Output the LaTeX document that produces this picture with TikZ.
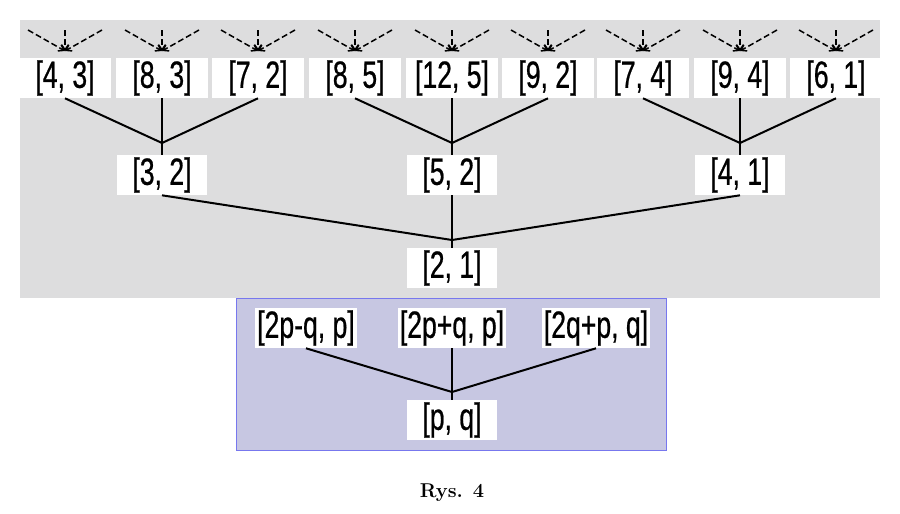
\documentclass[tikz,border=0pt]{standalone}
\usepackage{fontspec}
\setmainfont{Liberation Sans}[FakeStretch=0.7,FakeBold=0.6]
\newfontfamily\capfont{Latin Modern Roman}
\usetikzlibrary{positioning, arrows.meta}
\definecolor{panel}{RGB}{221,221,222}
\definecolor{lilac}{RGB}{199,199,226}
\begin{document}
\begin{tikzpicture}[x=1pt,y=-1pt,semithick,
	pair/.style={fill=white,inner sep=2pt,minimum height=40pt,font=\fontsize{38}{40}\selectfont},
	link/.style={line width=2pt},
	up/.style={line width=1.5pt,dash pattern=on 6pt off 3pt,-{Straight Barb[length=5pt,width=7pt]}}]
	\useasboundingbox (0,0) rectangle (900,514);
	\fill[panel] (20,20) rectangle (880,298);
	\fill[lilac] (236,298) rectangle (666,450);
	\draw[lilac!60!blue,thin] (236,298) rectangle (666,450);
	% top row
	\foreach \name/\x/\txt in {a/65/{[4, 3]},b/162/{[8, 3]},c/258/{[7, 2]},
		d/355/{[8, 5]},e/452/{[12, 5]},f/548/{[9, 2]},
		g/643/{[7, 4]},h/740/{[9, 4]},i/836/{[6, 1]}}{
		\node[pair,minimum width=92pt] (\name) at (\x,78) {\txt};
		\coordinate (\name t) at (\x,51);
		\draw[up] (\x-37,30) -- (\name t);
		\draw[up] (\x,30) -- (\name t);
		\draw[up] (\x+37,30) -- (\name t);
	}
	% middle row
	\node[pair,minimum width=90pt] (m1) at (162,175) {[3, 2]};
	\node[pair,minimum width=90pt] (m2) at (452,175) {[5, 2]};
	\node[pair,minimum width=90pt] (m3) at (740,175) {[4, 1]};
	\node[pair,minimum width=90pt] (root) at (452,268) {[2, 1]};
	\coordinate (j1) at (162,143);
	\coordinate (j2) at (452,143);
	\coordinate (j3) at (740,143);
	\coordinate (j4) at (452,240);
	\foreach \s/\j in {a/j1,b/j1,c/j1,d/j2,e/j2,f/j2,g/j3,h/j3,i/j3}
		\draw[link] (\s.south) -- (\j);
	\draw[link] (m1.north) -- (j1);
	\draw[link] (m2.north) -- (j2);
	\draw[link] (m3.north) -- (j3);
	\foreach \s in {m1,m2,m3}
		\draw[link] (\s.south) -- (j4);
	\draw[link] (j4) -- (root.north);
	% general rule
	\node[pair] (p1) at (306,328) {[2p-q, p]};
	\node[pair] (p2) at (452,328) {[2p+q, p]};
	\node[pair] (p3) at (596,328) {[2q+p, q]};
	\node[pair,minimum width=90pt] (pq) at (452,420) {[p, q]};
	\coordinate (j5) at (452,392);
	\foreach \s in {p1,p2,p3}
		\draw[link] (\s.south) -- (j5);
	\draw[link] (j5) -- (pq.north);
	\node (cap) at (452,493) {\fontsize{20}{22}\selectfont\capfont\bfseries Rys. 4};
\end{tikzpicture}
\end{document}
